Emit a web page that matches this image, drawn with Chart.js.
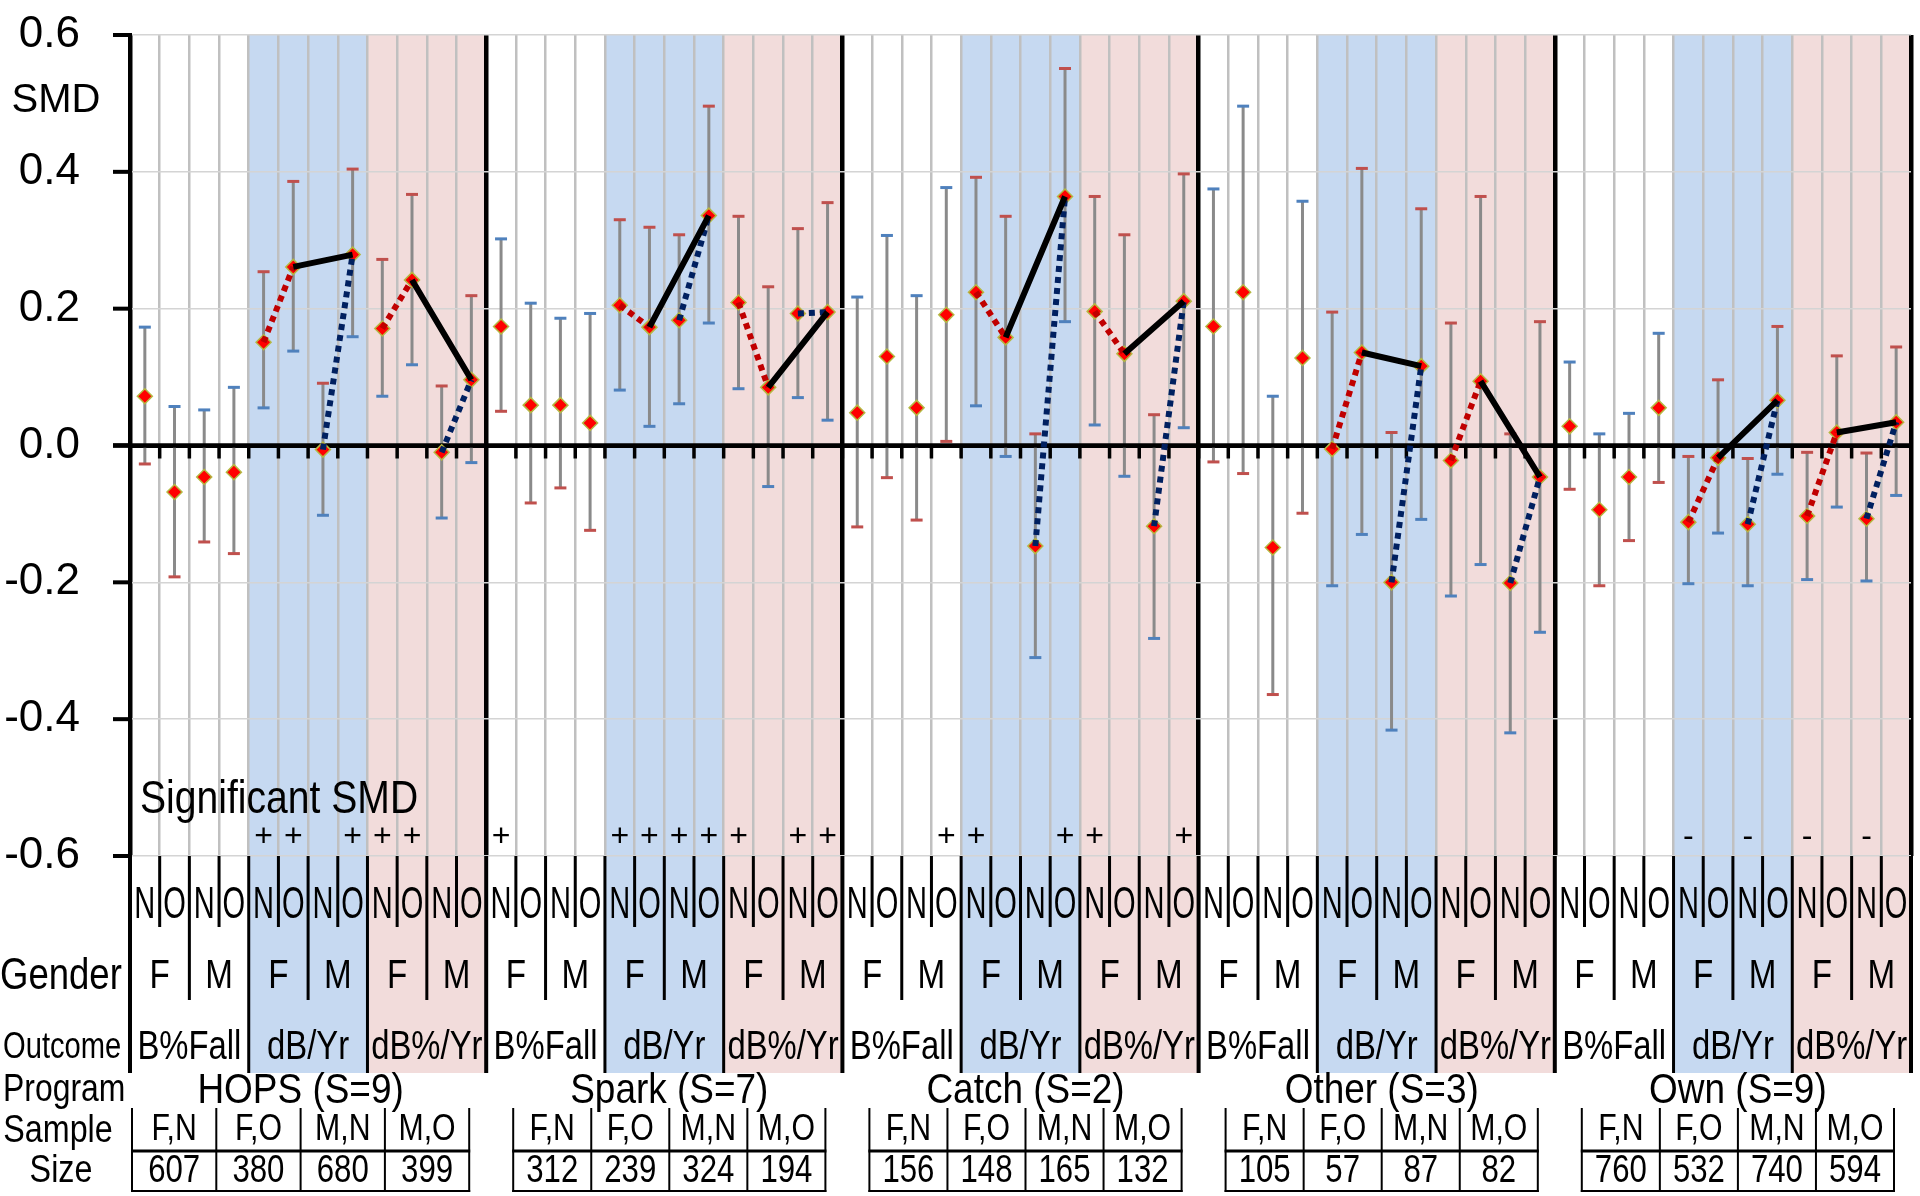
<!DOCTYPE html>
<html><head><meta charset="utf-8">
<script src="https://cdn.jsdelivr.net/npm/chart.js@4.4.1/dist/chart.umd.min.js"></script>
<style>html,body{margin:0;padding:0;background:#fff;}#wrap{width:1920px;height:1196px;position:relative;}</style>
</head><body><div id="wrap"><canvas id="c" width="1920" height="1196"></canvas></div>
<script>
// ---------- categories ----------
const programs = ['HOPS (S=9)', 'Spark (S=7)', 'Catch (S=2)', 'Other (S=3)', 'Own (S=9)'];
const outcomes = ['B%Fall', 'dB/Yr', 'dB%/Yr'];
const genders = ['F', 'M'];
const timings = ['N', 'O'];
const sizeHeaders = ['F,N', 'F,O', 'M,N', 'M,O'];
const yTickValues = [-0.6, -0.4, -0.2, 0, 0.2, 0.4, 0.6];
const rowLabels = ['Gender', 'Outcome', 'Program', 'Sample', 'Size'];
const axisTitle = 'SMD';
const sigTitle = 'Significant SMD';

// ---------- SMD values (per program: B%Fall FN,FO,MN,MO | dB/Yr ... | dB%/Yr ...) ----------
const smdHOPS  = [0.072, -0.068, -0.046, -0.039, 0.151, 0.261, -0.006, 0.279, 0.171, 0.242, -0.010, 0.096];
const hiHOPS   = [0.173, 0.057, 0.052, 0.085, 0.254, 0.386, 0.091, 0.404, 0.272, 0.367, 0.087, 0.219];
const loHOPS   = [-0.027, -0.192, -0.141, -0.158, 0.055, 0.138, -0.102, 0.159, 0.072, 0.118, -0.106, -0.025];

const smdSpark = [0.174, 0.059, 0.059, 0.033, 0.205, 0.173, 0.183, 0.336, 0.209, 0.085, 0.193, 0.195];
const hiSpark  = [0.302, 0.208, 0.186, 0.193, 0.330, 0.319, 0.308, 0.496, 0.335, 0.232, 0.317, 0.355];
const loSpark  = [0.050, -0.084, -0.062, -0.124, 0.081, 0.028, 0.061, 0.179, 0.083, -0.060, 0.070, 0.037];

const smdCatch = [0.048, 0.130, 0.055, 0.191, 0.224, 0.158, -0.147, 0.364, 0.196, 0.134, -0.118, 0.211];
const hiCatch  = [0.217, 0.307, 0.219, 0.377, 0.392, 0.335, 0.017, 0.551, 0.364, 0.308, 0.045, 0.397];
const loCatch  = [-0.119, -0.047, -0.109, 0.006, 0.058, -0.016, -0.310, 0.181, 0.030, -0.045, -0.282, 0.026];

const smdOther = [0.174, 0.224, -0.149, 0.128, -0.005, 0.136, -0.200, 0.116, -0.022, 0.094, -0.201, -0.046];
const hiOther  = [0.375, 0.496, 0.072, 0.357, 0.195, 0.405, 0.019, 0.346, 0.179, 0.364, 0.017, 0.181];
const loOther  = [-0.024, -0.041, -0.364, -0.099, -0.205, -0.130, -0.416, -0.108, -0.220, -0.174, -0.420, -0.273];

const smdOwn   = [0.028, -0.094, -0.046, 0.055, -0.112, -0.018, -0.115, 0.066, -0.103, 0.019, -0.107, 0.034];
const hiOwn    = [0.122, 0.017, 0.047, 0.164, -0.016, 0.096, -0.019, 0.174, -0.010, 0.131, -0.011, 0.144];
const loOwn    = [-0.064, -0.205, -0.139, -0.054, -0.202, -0.128, -0.205, -0.042, -0.196, -0.090, -0.198, -0.073];

// significance markers
const sigHOPS  = ['', '', '', '', '+', '+', '', '+', '+', '+', '', ''];
const sigSpark = ['+', '', '', '', '+', '+', '+', '+', '+', '', '+', '+'];
const sigCatch = ['', '', '', '+', '+', '', '', '+', '+', '', '', '+'];
const sigOther = ['', '', '', '', '', '', '', '', '', '', '', ''];
const sigOwn   = ['', '', '', '', '-', '', '-', '', '-', '', '-', ''];

// sample sizes (F,N  F,O  M,N  M,O)
const nHOPS  = [607, 380, 680, 399];
const nSpark = [312, 239, 324, 194];
const nCatch = [156, 148, 165, 132];
const nOther = [105, 57, 87, 82];
const nOwn   = [760, 532, 740, 594];

// ---------- assembled ----------
const smdAll = [smdHOPS, smdSpark, smdCatch, smdOther, smdOwn];
const hiAll  = [hiHOPS, hiSpark, hiCatch, hiOther, hiOwn];
const loAll  = [loHOPS, loSpark, loCatch, loOther, loOwn];
const sigAll = [sigHOPS, sigSpark, sigCatch, sigOther, sigOwn];
const nAll   = [nHOPS, nSpark, nCatch, nOther, nOwn];

const PER_PROG = outcomes.length * genders.length * timings.length; // 12
const NCOLS = programs.length * PER_PROG; // 60
const cols = [];
programs.forEach((prog, p) => outcomes.forEach((out, o) => genders.forEach((gen, g) => timings.forEach((tm, t) => {
  cols.push({p, o, g, t, k: o * 4 + g * 2 + t});
}))));

const markerData = cols.map((c, i) => ({x: i + 0.5, y: smdAll[c.p][c.k]}));

// connecting segments within change outcomes (dB/Yr, dB%/Yr)
function segs(from, to) {
  const out = [];
  programs.forEach((_, p) => {
    for (let o = 1; o < outcomes.length; o++) {
      const a = o * 4 + from[0] * 2 + from[1];
      const b = o * 4 + to[0] * 2 + to[1];
      out.push({x: p * PER_PROG + a + 0.5, y: smdAll[p][a]});
      out.push({x: p * PER_PROG + b + 0.5, y: smdAll[p][b]});
      out.push({x: p * PER_PROG + b + 0.5, y: null});
    }
  });
  return out;
}
const femaleSeg = segs([0, 0], [0, 1]); // F,N -> F,O
const maleSeg   = segs([1, 0], [1, 1]); // M,N -> M,O
const oldSeg    = segs([0, 1], [1, 1]); // F,O -> M,O

// ---------- drawing helpers ----------
const FONT = '"Liberation Sans", Arial, sans-serif';
function txt(ctx, s, x, y, size, sx, align) {
  ctx.save();
  ctx.font = size + 'px ' + FONT;
  ctx.textAlign = align || 'center';
  ctx.textBaseline = 'middle';
  ctx.fillStyle = '#000';
  ctx.translate(x, y);
  ctx.scale(sx, 1);
  ctx.fillText(s, 0, 0);
  ctx.restore();
}
function line(ctx, x0, y0, x1, y1, w, c) {
  ctx.beginPath();
  ctx.lineWidth = w; ctx.strokeStyle = c; ctx.lineCap = 'butt';
  ctx.moveTo(x0, y0); ctx.lineTo(x1, y1); ctx.stroke();
}
const BLUE_BG = '#c6d9f1', PINK_BG = '#f2dcdb';
const CAP_RED = '#c0504d', CAP_BLUE = '#4f81bd';
const Y_TICK_MARK = 17;

const decor = {
  id: 'decor',
  beforeDraw(chart) {
    const {ctx, chartArea: ca, scales: {x}} = chart;
    const bandBottom = ca.bottom + 217;
    ctx.save();
    for (let p = 0; p < programs.length; p++) {
      for (let o = 1; o < outcomes.length; o++) {
        const x0 = x.getPixelForValue(p * PER_PROG + o * 4);
        const x1 = x.getPixelForValue(p * PER_PROG + o * 4 + 4);
        ctx.fillStyle = o === 1 ? BLUE_BG : PINK_BG;
        ctx.fillRect(x0, ca.top, x1 - x0, bandBottom - ca.top);
      }
    }
    ctx.restore();
  },
  beforeDatasetsDraw(chart) {
    const {ctx, chartArea: ca, scales: {x, y}} = chart;
    ctx.save();
    // y-axis tick marks
    y.ticks.forEach(t => {
      const yv = y.getPixelForValue(t.value);
      line(ctx, ca.left - Y_TICK_MARK, yv, ca.left, yv, 4, '#000');
    });
    // error bars
    cols.forEach((c, i) => {
      const xv = x.getPixelForValue(i + 0.5);
      const yh = y.getPixelForValue(hiAll[c.p][c.k]);
      const yl = y.getPixelForValue(loAll[c.p][c.k]);
      line(ctx, xv, yh, xv, yl, 3, '#8a8a8a');
      const topC = c.o === 0 ? CAP_BLUE : CAP_RED;
      const botC = c.o === 0 ? CAP_RED : CAP_BLUE;
      line(ctx, xv - 6, yh, xv + 6, yh, 3, topC);
      line(ctx, xv - 6, yl, xv + 6, yl, 3, botC);
    });
    // zero axis line with tick marks
    const y0 = y.getPixelForValue(0);
    line(ctx, ca.left - Y_TICK_MARK, y0, ca.right, y0, 4.5, '#000');
    for (let g = 1; g < NCOLS; g++) {
      const xv = x.getPixelForValue(g);
      line(ctx, xv, y0, xv, y0 + 13, 3.5, '#000');
    }
    ctx.restore();
  },
  afterDatasetsDraw(chart) {
    const {ctx, chartArea: ca, scales: {x}} = chart;
    cols.forEach((c, i) => {
      const s = sigAll[c.p][c.k];
      if (s) txt(ctx, s, x.getPixelForValue(i + 0.5), ca.bottom - 19, 32, 1, 'center');
    });
    txt(ctx, sigTitle, ca.left + 10, ca.bottom - 56, 46, 0.85, 'left');
  },
  afterDraw(chart) {
    const {ctx, chartArea: ca, scales: {x}} = chart;
    const yb = ca.bottom;
    ctx.save();
    // axis title
    txt(ctx, axisTitle, 56, 101, 40, 1, 'center');
    // multi-level category lines
    for (let g = 0; g <= NCOLS; g++) {
      const xv = x.getPixelForValue(g);
      let len = 71, w = 3;
      if (g % 12 === 0) { len = 217; w = 4; }
      else if (g % 4 === 0) { len = 217; w = 3; }
      else if (g % 2 === 0) { len = 144; w = 3; }
      line(ctx, xv, yb, xv, yb + len, w, '#000');
    }
    // N/O row
    cols.forEach((c, i) => txt(ctx, timings[c.t], x.getPixelForValue(i + 0.5), yb + 50, 44, 0.66, 'center'));
    // gender row
    for (let p = 0; p < programs.length; p++) for (let o = 0; o < outcomes.length; o++) for (let g = 0; g < genders.length; g++) {
      const base = p * PER_PROG + o * 4 + g * 2;
      txt(ctx, genders[g], x.getPixelForValue(base + 1), yb + 121, 40, 0.83, 'center');
    }
    // outcome row
    for (let p = 0; p < programs.length; p++) for (let o = 0; o < outcomes.length; o++) {
      const base = p * PER_PROG + o * 4;
      txt(ctx, outcomes[o], x.getPixelForValue(base + 2), yb + 192, 40, 0.82, 'center');
    }
    // row labels
    txt(ctx, rowLabels[0], 0, yb + 121, 44, 0.83, 'left');
    txt(ctx, rowLabels[1], 3, yb + 192, 36, 0.81, 'left');
    txt(ctx, rowLabels[2], 3, yb + 235, 38, 0.84, 'left');
    txt(ctx, rowLabels[3], 58, yb + 276, 38, 0.85, 'center');
    txt(ctx, rowLabels[4], 61, yb + 316, 38, 0.85, 'center');
    // program names + sample size tables
    for (let p = 0; p < programs.length; p++) {
      const ps = x.getPixelForValue(p * PER_PROG), pe = x.getPixelForValue((p + 1) * PER_PROG);
      const left = ps + (p === 0 ? 2 : 27), right = pe - 17;
      const cw = (right - left) / 4;
      txt(ctx, programs[p], (left + right) / 2, yb + 235, 42, 0.88, 'center');
      const top = yb + 252, mid = yb + 295, bot = yb + 335;
      for (let i = 0; i <= 4; i++) line(ctx, left + i * cw, top, left + i * cw, bot + 1, 2, '#000');
      line(ctx, left - 1, mid, right + 1, mid, 3, '#000');
      line(ctx, left - 1, bot, right + 1, bot, 2, '#000');
      for (let i = 0; i < 4; i++) {
        txt(ctx, sizeHeaders[i], left + (i + 0.5) * cw, yb + 274, 36, 0.84, 'center');
        txt(ctx, String(nAll[p][i]), left + (i + 0.5) * cw, yb + 316, 38, 0.82, 'center');
      }
    }
    ctx.restore();
  }
};

new Chart(document.getElementById('c'), {
  type: 'line',
  data: {
    datasets: [
      {label: 'SMD', data: markerData, showLine: false, pointStyle: 'rectRot', pointRadius: 7.5,
       backgroundColor: '#ff0000', borderColor: '#b5b842', pointBorderWidth: 1.5, order: 4},
      {label: 'F: N to O', data: femaleSeg, borderColor: '#c00000', borderWidth: 6, borderDash: [6, 5],
       pointRadius: 0, spanGaps: false, order: 2},
      {label: 'M: N to O', data: maleSeg, borderColor: '#002060', borderWidth: 6, borderDash: [6, 5],
       pointRadius: 0, spanGaps: false, order: 2},
      {label: 'O: F to M', data: oldSeg, borderColor: '#000000', borderWidth: 6,
       pointRadius: 0, spanGaps: false, order: 1}
    ]
  },
  options: {
    responsive: false,
    animation: false,
    devicePixelRatio: 1,
    layout: {padding: {left: 0, right: 7, top: 35, bottom: 340}},
    plugins: {legend: {display: false}, tooltip: {enabled: false}},
    scales: {
      x: {
        type: 'linear', min: 0, max: NCOLS,
        afterBuildTicks: s => { s.ticks = Array.from({length: NCOLS + 1}, (_, i) => ({value: i})); },
        afterFit: s => { s.height = 0; },
        ticks: {display: false},
        border: {display: false},
        grid: {
          drawTicks: false,
          color: c => (c.tick && c.tick.value % PER_PROG === 0) ? '#000' : '#c0c0c0',
          lineWidth: c => (c.tick && c.tick.value % PER_PROG === 0) ? 4.5 : 2.5
        }
      },
      y: {
        min: -0.6, max: 0.6,
        afterBuildTicks: s => { s.ticks = yTickValues.map(v => ({value: v})); },
        afterFit: s => { s.width = 130; },
        border: {display: true, color: '#000', width: 4},
        ticks: {
          color: '#000', padding: 0,
          font: {family: FONT, size: 44},
          callback: v => (Math.abs(v) < 1e-9 ? 0 : v).toFixed(1)
        },
        grid: {
          color: c => (c.tick && Math.abs(c.tick.value) < 1e-9) ? '#000' : '#d4d4d4',
          lineWidth: c => (c.tick && Math.abs(c.tick.value) < 1e-9) ? 4 : 1.5,
          tickColor: 'rgba(0,0,0,0)', tickWidth: 1, tickLength: 50
        }
      }
    }
  },
  plugins: [decor]
});
</script></body></html>
